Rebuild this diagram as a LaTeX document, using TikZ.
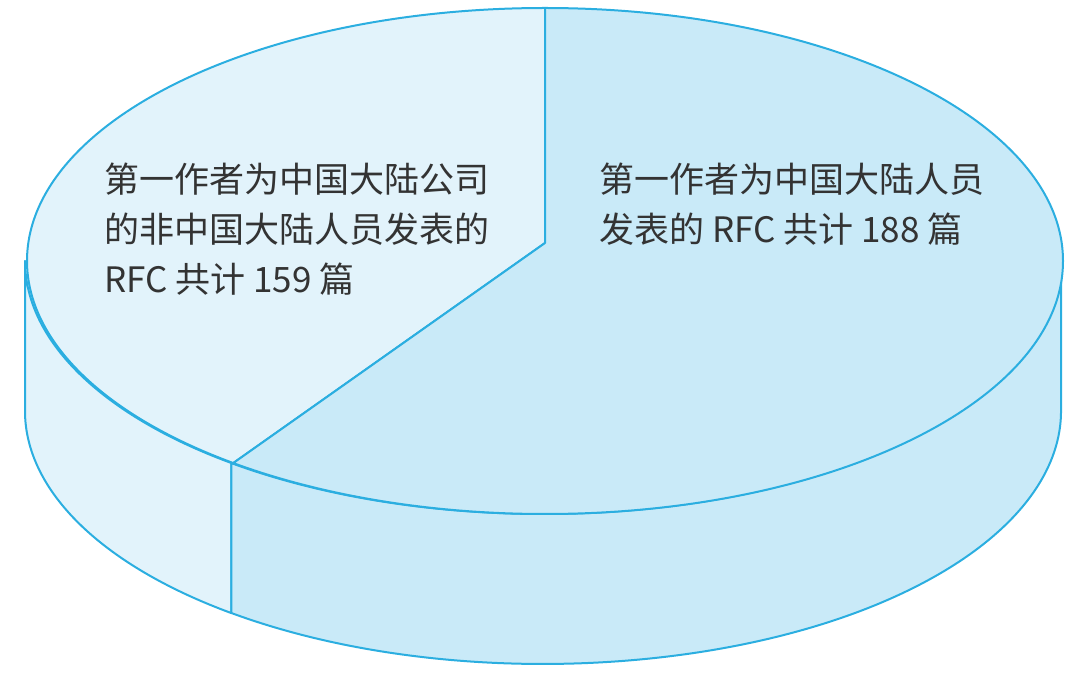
\documentclass[tikz,border=0pt]{standalone}
\usepackage{fontspec}
\newfontfamily\cjk{Noto Sans CJK SC}
\definecolor{edge}{HTML}{2BAEE0}
\definecolor{lightf}{HTML}{E2F3FB}
\definecolor{darkf}{HTML}{C9EAF8}
\definecolor{txt}{HTML}{333333}
\tikzset{slice/.style={draw=edge,line width=2pt,line join=round},
lbl/.style={text=txt,font=\cjk\fontsize{35}{50}\selectfont,align=left,anchor=north west,inner sep=0pt}}
\begin{document}
\begin{tikzpicture}[x=1pt,y=1pt]
\useasboundingbox (0,0) rectangle (1080,673);
\coordinate (c) at (545,430);
\coordinate (t) at (545,665);
\coordinate (s) at (231.3,210);
\coordinate (sb) at (231.3,60);
\draw[slice,fill=lightf] (25,412) -- (25,262) arc[start angle=180,end angle=233,x radius=518pt,y radius=253pt] -- (s) arc[start angle=233,end angle=180,x radius=518pt,y radius=253pt] -- cycle;
\draw[slice,fill=darkf] (s) -- (sb) arc[start angle=233,end angle=360,x radius=518pt,y radius=253pt] -- (1061,412) arc[start angle=360,end angle=233,x radius=518pt,y radius=253pt] -- cycle;
\draw[slice,fill=lightf] (c) -- (t) arc[start angle=90,end angle=233,x radius=518pt,y radius=253pt] -- cycle;
\draw[slice,fill=darkf] (c) -- (t) arc[start angle=90,end angle=-127,x radius=518pt,y radius=253pt] -- cycle;
\node[lbl] (a) at (104,510) {第一作者为中国大陆公司\\的非中国大陆人员发表的\\RFC 共计 159 篇};
\node[lbl] (b) at (599,510) {第一作者为中国大陆人员\\发表的 RFC 共计 188 篇};
\end{tikzpicture}
\end{document}
